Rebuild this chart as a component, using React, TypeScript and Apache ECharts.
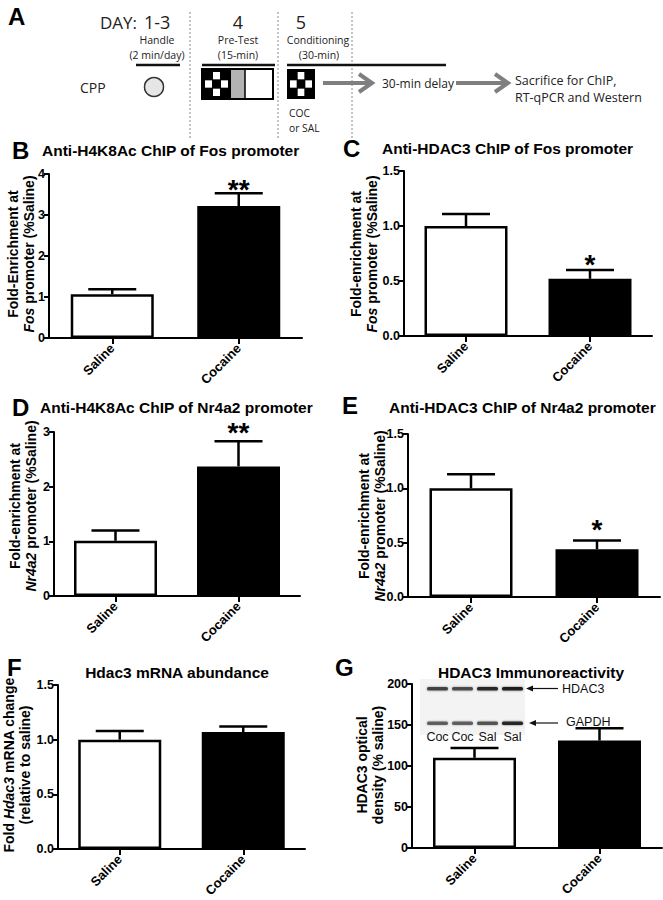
import React, { useEffect, useRef } from "react";
import * as echarts from "echarts";

// ---------- data ----------
const categories = ["Saline", "Cocaine"];

const bMeans = [1.07, 3.22];
const bErrors = [0.12, 0.31];
const bSig = ["", "**"];

const cMeans = [1.0, 0.52];
const cErrors = [0.11, 0.08];
const cSig = ["", "*"];

const dMeans = [1.01, 2.37];
const dErrors = [0.19, 0.46];
const dSig = ["", "**"];

const eMeans = [1.0, 0.44];
const eErrors = [0.13, 0.08];
const eSig = ["", "*"];

const fMeans = [1.0, 1.07];
const fErrors = [0.08, 0.05];
const fSig = ["", ""];

const gMeans = [110, 131];
const gErrors = [12, 15];
const gSig = ["", ""];

const blotLanes = ["Coc", "Coc", "Sal", "Sal"];
const hdac3Band = [0.75, 0.7, 0.9, 0.95];
const gapdhBand = [0.6, 0.6, 0.65, 0.9];

// ---------- styles ----------
const FONT = "Liberation Sans, Arial, Helvetica, sans-serif";
const AFONT = "Open Sans, Liberation Sans, sans-serif";

type Panel = {
  letter: string;
  title: string;
  means: number[];
  errors: number[];
  sig: string[];
  max: number;
  interval: number;
  decimals: number;
  grid: { left: number; top: number; width: number; height: number };
  yLabel: string;
  yLabelPos: [number, number];
  starOffset: number;
};

const panels: Panel[] = [
  {
    letter: "B", title: "Anti-H4K8Ac ChIP of Fos promoter",
    means: bMeans, errors: bErrors, sig: bSig, max: 4, interval: 1, decimals: 0,
    grid: { left: 49, top: 174, width: 253, height: 164 },
    yLabel: "{b|Fold-Enrichment at}\n{i|Fos}{b| promoter (%Saline)}", yLabelPos: [21, 254], starOffset: 4,
  },
  {
    letter: "C", title: "Anti-HDAC3 ChIP of Fos promoter",
    means: cMeans, errors: cErrors, sig: cSig, max: 1.5, interval: 0.5, decimals: 1,
    grid: { left: 404, top: 171, width: 248, height: 165 },
    yLabel: "{b|Fold-enrichment at}\n{i|Fos}{b| promoter (%Saline)}", yLabelPos: [364, 254], starOffset: 6,
  },
  {
    letter: "D", title: "Anti-H4K8Ac ChIP of Nr4a2 promoter",
    means: dMeans, errors: dErrors, sig: dSig, max: 3, interval: 1, decimals: 0,
    grid: { left: 54, top: 432, width: 246, height: 164 },
    yLabel: "{b|Fold-enrichment at}\n{i|Nr4a2}{b| promoter (%Saline)}", yLabelPos: [23, 506], starOffset: 9,
  },
  {
    letter: "E", title: "Anti-HDAC3 ChIP of Nr4a2 promoter",
    means: eMeans, errors: eErrors, sig: eSig, max: 1.5, interval: 0.5, decimals: 1,
    grid: { left: 408, top: 434, width: 252, height: 163 },
    yLabel: "{b|Fold-enrichment at}\n{i|Nr4a2}{b| promoter (%Saline)}", yLabelPos: [372, 516], starOffset: 11,
  },
  {
    letter: "F", title: "Hdac3 mRNA abundance",
    means: fMeans, errors: fErrors, sig: fSig, max: 1.5, interval: 0.5, decimals: 1,
    grid: { left: 58, top: 685, width: 247, height: 164 },
    yLabel: "{b|Fold }{i|Hdac3}{b| mRNA change}\n{b|(relative to saline)}", yLabelPos: [17, 765], starOffset: 8,
  },
  {
    letter: "G", title: "HDAC3 Immunoreactivity",
    means: gMeans, errors: gErrors, sig: gSig, max: 200, interval: 50, decimals: 0,
    grid: { left: 412, top: 684, width: 250, height: 164 },
    yLabel: "{b|HDAC3 optical}\n{b|density (% saline)}", yLabelPos: [370, 765], starOffset: 8,
  },
];

const barStyles = [
  { color: "#ffffff", borderColor: "#000", borderWidth: 2.5 },
  { color: "#000000", borderColor: "#000", borderWidth: 2.5 },
];

function txt(text: string, x: number, y: number, size: number, opts: any = {}) {
  return {
    type: "text", x, y, silent: true,
    style: {
      text, fontSize: size, fontFamily: opts.family || AFONT, fontWeight: opts.weight || "normal",
      fill: opts.fill || "#222", align: opts.align || "left", verticalAlign: "middle",
    },
  };
}

function checker(x: number, y: number, w: number, h: number) {
  const cw = (w - 5) / 3;
  const ch = (h - 5) / 3;
  const ox = x + 2.5, oy = y + 2.5;
  const whites = [[1, 0], [0, 1], [2, 1], [1, 2]];
  const els: any[] = [{ type: "rect", shape: { x, y, width: w, height: h }, style: { fill: "#000" } }];
  whites.forEach(([c, r]) => {
    els.push({ type: "rect", shape: { x: ox + c * cw + 0.5, y: oy + r * ch + 0.5, width: cw - 1, height: ch - 1 }, style: { fill: "#fff" } });
  });
  return els;
}

function arrowRight(x1: number, x2: number, y: number) {
  return [
    { type: "line", shape: { x1, y1: y, x2: x2 - 2, y2: y }, style: { stroke: "#7f7f7f", lineWidth: 4 } },
    { type: "polyline", shape: { points: [[x2 - 13, y - 9], [x2, y], [x2 - 13, y + 9]] }, style: { stroke: "#7f7f7f", lineWidth: 4, fill: null } },
  ];
}

function buildGraphic() {
  const g: any[] = [];
  // Panel A
  g.push(txt("A", 8, 16, 24, { family: FONT, weight: "bold", fill: "#000" }));
  g.push(txt("DAY:", 100, 22, 17));
  g.push(txt("1-3", 144, 22, 18));
  g.push(txt("4", 238, 22, 18, { align: "center" }));
  g.push(txt("5", 301, 22, 18, { align: "center" }));
  g.push(txt("Handle", 157, 40, 10.5, { align: "center" }));
  g.push(txt("(2 min/day)", 157, 55, 10.5, { align: "center" }));
  g.push(txt("Pre-Test", 238, 40, 10.5, { align: "center" }));
  g.push(txt("(15-min)", 238, 55, 10.5, { align: "center" }));
  g.push(txt("Conditioning", 318, 40, 10.5, { align: "center" }));
  g.push(txt("(30-min)", 319, 55, 10.5, { align: "center" }));
  [190, 278, 352].forEach((x) => {
    g.push({ type: "line", silent: true, shape: { x1: x, y1: 12, x2: x, y2: 138 }, style: { stroke: "#888", lineWidth: 1, lineDash: [2, 2] } });
  });
  g.push({ type: "line", shape: { x1: 136, y1: 65, x2: 180, y2: 65 }, style: { stroke: "#111", lineWidth: 2.5 } });
  g.push({ type: "line", shape: { x1: 202, y1: 65, x2: 275, y2: 65 }, style: { stroke: "#111", lineWidth: 2.5 } });
  g.push({ type: "line", shape: { x1: 287, y1: 65, x2: 446, y2: 65 }, style: { stroke: "#111", lineWidth: 2.5 } });
  g.push(txt("CPP", 80, 87, 14));
  g.push({ type: "circle", shape: { cx: 154, cy: 87, r: 9.5 }, style: { fill: "#e6e6e6", stroke: "#333", lineWidth: 1.5 } });
  // pre-test box
  g.push(...checker(202, 69, 29, 30));
  g.push({ type: "rect", shape: { x: 231, y: 69, width: 14, height: 30 }, style: { fill: "#b3b3b3" } });
  g.push({ type: "rect", shape: { x: 245, y: 69, width: 28, height: 30 }, style: { fill: "#fff" } });
  g.push({ type: "line", shape: { x1: 245, y1: 69, x2: 245, y2: 99 }, style: { stroke: "#000", lineWidth: 1.5 } });
  g.push({ type: "rect", shape: { x: 202, y: 69, width: 71, height: 30 }, style: { fill: null, stroke: "#000", lineWidth: 2 } });
  // conditioning box
  g.push(...checker(287, 69, 28, 30));
  g.push(txt("COC", 289, 113, 10.3));
  g.push(txt("or SAL", 289, 128, 10.3));
  g.push(...arrowRight(323, 372, 83));
  g.push(txt("30-min delay", 382, 83, 12));
  g.push(...arrowRight(456, 508, 83));
  g.push(txt("Sacrifice for ChIP,", 515, 80, 12.5));
  g.push(txt("RT-qPCR and Western", 515, 97, 12.5));

  // panel letters & titles
  const letters: [string, number, number][] = [["B", 12, 150], ["C", 343, 148], ["D", 12, 407], ["E", 342, 405], ["F", 7, 667], ["G", 335, 667]];
  letters.forEach(([l, x, y]) => g.push(txt(l, x, y, 24, { family: FONT, weight: "bold", fill: "#000" })));
  const titles: [string, number, number, string][] = [
    [panels[0].title, 42, 150, "left"], [panels[1].title, 382, 148, "left"],
    [panels[2].title, 40, 407, "left"], [panels[3].title, 389, 407, "left"],
    [panels[4].title, 177, 672, "center"], [panels[5].title, 531, 672, "center"],
  ];
  titles.forEach(([t, x, y, a]) => g.push(txt(t, x, y, 15.5, { family: FONT, weight: "bold", fill: "#000", align: a })));

  // y-axis labels
  panels.forEach((p) => {
    g.push({
      type: "text", x: p.yLabelPos[0], y: p.yLabelPos[1], rotation: Math.PI / 2, silent: true,
      style: {
        text: p.yLabel, align: "center", verticalAlign: "middle", fill: "#000",
        rich: {
          b: { fontFamily: FONT, fontWeight: "bold", fontSize: 14, lineHeight: 16, fill: "#000" },
          i: { fontFamily: FONT, fontWeight: "bold", fontStyle: "italic", fontSize: 14, lineHeight: 16, fill: "#000" },
        },
      },
    });
  });

  // Western blot inset (panel G)
  g.push({ type: "rect", shape: { x: 420, y: 679, width: 105, height: 56 }, style: { fill: "#f3f3f3" } });
  const laneX = [427, 452, 477, 502];
  laneX.forEach((x, i) => {
    g.push({ type: "rect", shape: { x, y: 687, width: 21, height: 3.5, r: 1.5 }, style: { fill: "#111", opacity: hdac3Band[i], shadowBlur: 2, shadowColor: "#666" } });
    g.push({ type: "rect", shape: { x, y: 721.5, width: 21, height: 3.5, r: 1.5 }, style: { fill: "#111", opacity: gapdhBand[i], shadowBlur: 2, shadowColor: "#666" } });
    g.push(txt(blotLanes[i], x + 10.5, 737, 12.5, { family: FONT, fill: "#111", align: "center" }));
  });
  g.push({ type: "line", shape: { x1: 531, y1: 688.5, x2: 558, y2: 688.5 }, style: { stroke: "#111", lineWidth: 1.2 } });
  g.push({ type: "polygon", shape: { points: [[526, 688.5], [533, 685.5], [533, 691.5]] }, style: { fill: "#111" } });
  g.push(txt("HDAC3", 562, 688.5, 12.5, { family: FONT, fill: "#111" }));
  g.push({ type: "line", shape: { x1: 534, y1: 723, x2: 558, y2: 723 }, style: { stroke: "#111", lineWidth: 1.2 } });
  g.push({ type: "polygon", shape: { points: [[529, 723], [536, 720], [536, 726]] }, style: { fill: "#111" } });
  g.push(txt("GAPDH", 566, 722, 12.5, { family: FONT, fill: "#111" }));
  return g;
}

function buildOption() {
  const grid: any[] = [];
  const xAxis: any[] = [];
  const yAxis: any[] = [];
  const series: any[] = [];
  panels.forEach((p, i) => {
    grid.push({ ...p.grid, containLabel: false });
    xAxis.push({
      type: "category", gridIndex: i, data: categories,
      axisLine: { show: true, lineStyle: { color: "#000", width: 2 } },
      axisTick: { show: true, alignWithLabel: true, length: 6, lineStyle: { color: "#000", width: 2 } },
      axisLabel: { rotate: 45, margin: 8, color: "#000", fontFamily: FONT, fontWeight: "bold", fontSize: 13 },
      splitLine: { show: false },
    });
    yAxis.push({
      type: "value", gridIndex: i, min: 0, max: p.max, interval: p.interval,
      axisLine: { show: true, lineStyle: { color: "#000", width: 2 } },
      axisTick: { show: true, length: 5, lineStyle: { color: "#000", width: 2 } },
      axisLabel: {
        margin: 4, color: "#000", fontFamily: FONT, fontWeight: "bold", fontSize: 12.5,
        formatter: (v: number) => v.toFixed(p.decimals),
      },
      splitLine: { show: false },
    });
    series.push({
      type: "bar", xAxisIndex: i, yAxisIndex: i, barWidth: 83, silent: true,
      data: p.means.map((v, k) => ({ value: v, itemStyle: barStyles[k] })),
      z: 2,
    });
    series.push({
      type: "custom", xAxisIndex: i, yAxisIndex: i, silent: true, z: 5,
      encode: { x: 0, y: [1, 2] },
      data: p.means.map((v, k) => [k, v, v + p.errors[k]]),
      renderItem: (params: any, api: any) => {
        const k = api.value(0);
        const p0 = api.coord([k, api.value(1)]);
        const p1 = api.coord([k, api.value(2)]);
        const children: any[] = [
          { type: "line", shape: { x1: p0[0], y1: p0[1], x2: p1[0], y2: p1[1] }, style: { stroke: "#000", lineWidth: 2.5 } },
          { type: "line", shape: { x1: p1[0] - 24, y1: p1[1], x2: p1[0] + 24, y2: p1[1] }, style: { stroke: "#000", lineWidth: 2.5 } },
        ];
        const s = p.sig[params.dataIndex];
        if (s) {
          children.push({
            type: "text", x: p1[0], y: p1[1] - p.starOffset,
            style: { text: s, fontFamily: FONT, fontWeight: "bold", fontSize: 28, fill: "#000", align: "center", verticalAlign: "middle" },
          });
        }
        return { type: "group", children };
      },
    });
  });
  return {
    animation: false,
    backgroundColor: "#ffffff",
    textStyle: { fontFamily: FONT },
    grid, xAxis, yAxis, series,
    graphic: buildGraphic(),
  };
}

export default function App() {
  const ref = useRef<HTMLDivElement>(null);
  useEffect(() => {
    if (!ref.current) return;
    const chart = echarts.init(ref.current, null, { renderer: "svg" });
    chart.setOption(buildOption() as any);
    return () => chart.dispose();
  }, []);
  return <div ref={ref} style={{ position: "absolute", left: 0, top: 0, width: 663, height: 900 }} />;
}
